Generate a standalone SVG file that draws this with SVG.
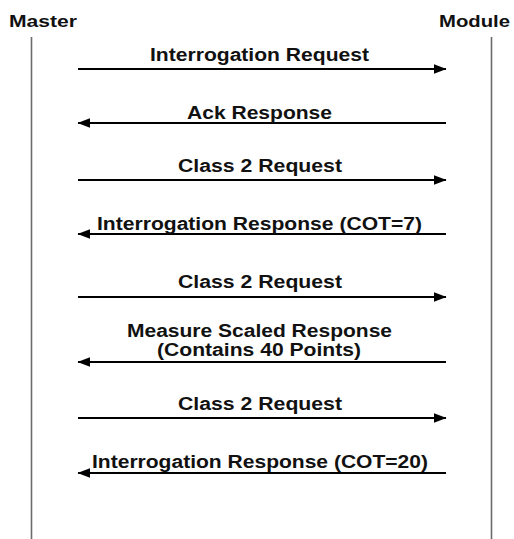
<svg xmlns="http://www.w3.org/2000/svg" width="514" height="539" viewBox="0 0 514 539">
<defs>
<style>
.t{font-family:"Liberation Sans",Arial,sans-serif;font-weight:bold;font-size:18px;fill:#111}
.h{font-size:17px}
.life{stroke:#6b6b6b;stroke-width:1.6;fill:none}
.msg{stroke:#000;stroke-width:2.2;fill:none}
</style>
<marker id="ah" markerUnits="userSpaceOnUse" markerWidth="14" markerHeight="12" viewBox="0 0 14 12" refX="12" refY="6" orient="auto">
<path d="M0,1.2 L12.5,6 L0,10.8 Z" fill="#000"/>
</marker>
</defs>
<rect width="514" height="539" fill="#fff"/>
<g id="master">
<text class="t h" x="9" y="27" textLength="68" lengthAdjust="spacingAndGlyphs">Master</text>
<line class="life" x1="31.5" y1="37" x2="31.5" y2="539"/>
</g>
<g id="module">
<text class="t h" x="439" y="27" textLength="71" lengthAdjust="spacingAndGlyphs">Module</text>
<line class="life" x1="491.5" y1="37" x2="491.5" y2="539"/>
</g>
<g id="connectors">
<line class="msg" x1="78" y1="69" x2="446" y2="69" marker-end="url(#ah)"/>
<line class="msg" x1="446" y1="123" x2="78" y2="123" marker-end="url(#ah)"/>
<line class="msg" x1="78" y1="180" x2="446" y2="180" marker-end="url(#ah)"/>
<line class="msg" x1="446" y1="234" x2="78" y2="234" marker-end="url(#ah)"/>
<line class="msg" x1="78" y1="297" x2="446" y2="297" marker-end="url(#ah)"/>
<line class="msg" x1="446" y1="362" x2="78" y2="362" marker-end="url(#ah)"/>
<line class="msg" x1="78" y1="418" x2="446" y2="418" marker-end="url(#ah)"/>
<line class="msg" x1="446" y1="473" x2="78" y2="473" marker-end="url(#ah)"/>
</g>
<g id="labels">
<text class="t" x="150" y="61" textLength="219" lengthAdjust="spacingAndGlyphs">Interrogation Request</text>
<text class="t" x="187" y="119" textLength="145" lengthAdjust="spacingAndGlyphs">Ack Response</text>
<text class="t" x="178" y="172" textLength="164" lengthAdjust="spacingAndGlyphs">Class 2 Request</text>
<text class="t" x="97" y="230" textLength="325" lengthAdjust="spacingAndGlyphs">Interrogation Response (COT=7)</text>
<text class="t" x="178" y="288" textLength="164" lengthAdjust="spacingAndGlyphs">Class 2 Request</text>
<text class="t" x="127" y="337" textLength="265" lengthAdjust="spacingAndGlyphs">Measure Scaled Response</text>
<text class="t" x="157" y="356" textLength="204" lengthAdjust="spacingAndGlyphs">(Contains 40 Points)</text>
<text class="t" x="178" y="410" textLength="164" lengthAdjust="spacingAndGlyphs">Class 2 Request</text>
<text class="t" x="92" y="468" textLength="336" lengthAdjust="spacingAndGlyphs">Interrogation Response (COT=20)</text>
</g>
</svg>
